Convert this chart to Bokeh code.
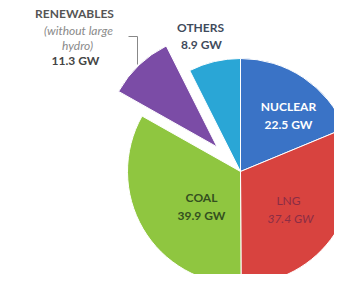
import math
from bokeh.plotting import figure
from bokeh.models import Range1d, ColumnDataSource
from bokeh.core.properties import value
from bokeh.embed import file_html
from bokeh.resources import INLINE

# ---- data ----
categories = ["NUCLEAR", "LNG", "COAL", "RENEWABLES", "OTHERS"]
values_gw = [22.5, 37.4, 39.9, 11.3, 8.9]
colors = ["#3a73c6", "#d8433f", "#8fc640", "#7b4ca6", "#2aa6d6"]
exploded = [False, False, False, True, False]
value_labels = ["%.1f GW" % v for v in values_gw]

# ---- layout (picture pixel coordinates, y measured downward) ----
W, H = 334, 274
def Y(y_img):
    return H - y_img

cx, cy_img, R = 240, 171, 113
explode_dist = 34

p = figure(width=W, height=H, output_backend="svg", toolbar_location=None,
           x_range=Range1d(0, W), y_range=Range1d(0, H),
           min_border=0)
p.axis.visible = False
p.grid.visible = False
p.outline_line_color = None
p.background_fill_color = "white"
p.border_fill_color = "white"

total = sum(values_gw)
xs, ys, starts, ends = [], [], [], []
acc = 0.0
for v, ex in zip(values_gw, exploded):
    a0 = math.pi / 2 - 2 * math.pi * acc / total
    a1 = a0 - 2 * math.pi * v / total
    acc += v
    mid = (a0 + a1) / 2
    d = explode_dist if ex else 0
    xs.append(cx + d * math.cos(mid))
    ys.append(Y(cy_img) + d * math.sin(mid))
    starts.append(a1)
    ends.append(a0)

src = ColumnDataSource(dict(x=xs, y=ys, start=starts, end=ends, color=colors))
p.wedge(x="x", y="y", radius=R, start_angle="start", end_angle="end",
        fill_color="color", line_color="white", line_width=1, source=src)

FONT = value("Lato")

# NUCLEAR (white)
p.text(x=[288, 288], y=[Y(106), Y(124)], text=[categories[0], value_labels[0]],
       text_color="white", text_font=FONT, text_font_style="bold",
       text_font_size="12px", text_align="center", text_baseline="middle")
# LNG
p.text(x=[288], y=[Y(200)], text=[categories[1]], text_color="#8a2d45",
       text_font=FONT, text_font_size="12px", text_align="center", text_baseline="middle")
p.text(x=[290], y=[Y(218)], text=[value_labels[1]], text_color="#8a2d45",
       text_font=FONT, text_font_style="italic", text_font_size="12px",
       text_align="center", text_baseline="middle")
# COAL
p.text(x=[201, 201], y=[Y(197), Y(215)], text=[categories[2], value_labels[2]],
       text_color="#34501f", text_font=FONT, text_font_style="bold",
       text_font_size="12px", text_align="center", text_baseline="middle")
# OTHERS
p.text(x=[200, 201], y=[Y(27), Y(44)], text=[categories[4], value_labels[4]],
       text_color="#3f4b5c", text_font=FONT, text_font_style="bold",
       text_font_size="12px", text_align="center", text_baseline="middle")
# RENEWABLES
p.text(x=[74], y=[Y(13)], text=[categories[3]], text_color="#555555",
       text_font=FONT, text_font_style="bold", text_font_size="12px",
       text_align="center", text_baseline="middle")
p.text(x=[78, 77], y=[Y(30), Y(45)], text=["(without large", "hydro)"],
       text_color="#8a8a8a", text_font=FONT, text_font_style="italic",
       text_font_size="12px", text_align="center", text_baseline="middle")
p.text(x=[75], y=[Y(60)], text=[value_labels[3]], text_color="#444444",
       text_font=FONT, text_font_style="bold", text_font_size="12px",
       text_align="center", text_baseline="middle")
# leader line
p.line(x=[128, 137, 137], y=[Y(36), Y(36), Y(64)], line_color="#888888", line_width=1)

open("out.html", "w").write(file_html(p, INLINE))
